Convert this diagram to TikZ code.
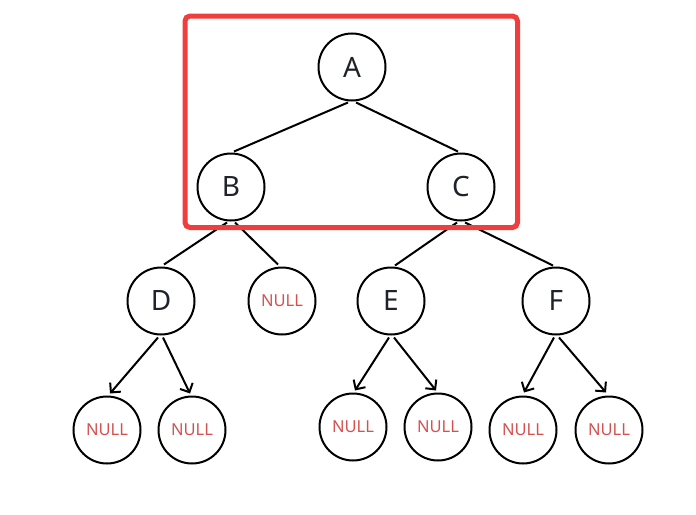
\documentclass[tikz,border=0pt]{standalone}
\usepackage{fontspec}
\setmainfont{Noto Sans}
\usetikzlibrary{arrows.meta}
\definecolor{ink}{RGB}{31,35,41}
\definecolor{nullred}{RGB}{214,80,80}
\definecolor{boxred}{RGB}{240,62,62}
\begin{document}
\begin{tikzpicture}[x=1pt,y=-1pt,
  tn/.style={circle,draw=black,line width=2pt,minimum size=67pt,inner sep=0pt,text=ink,font=\fontsize{28}{30}\selectfont},
  nn/.style={tn,text=nullred,font=\fontsize{16.5}{18}\selectfont},
  edge/.style={line width=2pt,draw=black},
  arr/.style={edge,-{Straight Barb[length=7pt,width=14pt,line width=2pt]}}]
\useasboundingbox (0,0) rectangle (696,514);
\node[tn] (A) at (352,67) {A};
\node[tn] (B) at (231,187) {B};
\node[tn] (C) at (461,187) {C};
\node[tn] (D) at (161,301) {D};
\node[nn] (N0) at (282,301) {NULL};
\node[tn] (E) at (391,301) {E};
\node[tn] (F) at (556,301) {F};
\node[nn] (N1) at (107,430) {NULL};
\node[nn] (N2) at (192,430) {NULL};
\node[nn] (N3) at (353,427) {NULL};
\node[nn] (N4) at (438,427) {NULL};
\node[nn] (N5) at (523,430) {NULL};
\node[nn] (N6) at (609,430) {NULL};
\draw[edge] ([xshift=-4pt,yshift=-1pt]A.south) -- ([xshift=3pt,yshift=1pt]B.north);
\draw[edge] ([xshift=4pt,yshift=-1pt]A.south) -- ([xshift=-3pt,yshift=1pt]C.north);
\draw[edge] ([xshift=-4pt,yshift=-1pt]B.south) -- ([xshift=3pt,yshift=2pt]D.north);
\draw[edge] ([xshift=4pt,yshift=-1pt]B.south) -- ([xshift=-4pt,yshift=2pt]N0.north);
\draw[edge] ([xshift=-4pt,yshift=-1pt]C.south) -- ([xshift=4pt,yshift=1pt]E.north);
\draw[edge] ([xshift=4pt,yshift=-1pt]C.south) -- ([xshift=-3pt,yshift=1pt]F.north);
\draw[arr] ([xshift=-3pt,yshift=-2pt]D.south) -- ([xshift=3pt,yshift=2pt]N1.north);
\draw[arr] ([xshift=2pt,yshift=-2pt]D.south) -- ([xshift=-2pt,yshift=2pt]N2.north);
\draw[arr] ([xshift=-2pt,yshift=-2pt]E.south) -- ([xshift=2pt,yshift=2pt]N3.north);
\draw[arr] ([xshift=3pt,yshift=-2pt]E.south) -- ([xshift=-2pt,yshift=2pt]N4.north);
\draw[arr] ([xshift=-2pt,yshift=-2pt]F.south) -- ([xshift=1pt,yshift=3pt]N5.north);
\draw[arr] ([xshift=3pt,yshift=-2pt]F.south) -- ([xshift=-3pt,yshift=3pt]N6.north);
\draw[boxred,line width=5pt,rounded corners=5pt] (185,16) rectangle (517.5,227.5);
\end{tikzpicture}
\end{document}
